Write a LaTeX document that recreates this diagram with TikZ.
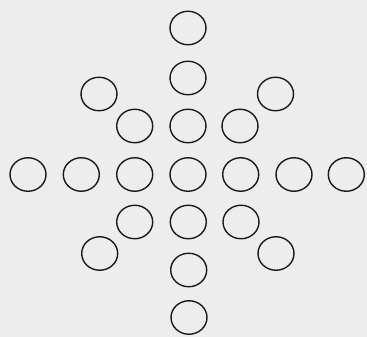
\documentclass[tikz,border=0pt]{standalone}
\usetikzlibrary{shapes.geometric}
\begin{document}
\begin{tikzpicture}[x=1pt,y=-1pt,
  ring/.style={draw=black!90,line width=1.4pt,ellipse,minimum width=36pt,minimum height=33.5pt,inner sep=0pt}]
\fill[black!7] (0,0) rectangle (367,337);
\useasboundingbox (0,0) rectangle (367,337);
% vertical column
\node[ring] (t1) at (188,28) {};
\node[ring] (t2) at (188,78) {};
\node[ring] (t3) at (188,126) {};
\node[ring] (c)  at (188,174.5) {};
\node[ring] (b3) at (188.3,222) {};
\node[ring] (b2) at (188.7,270) {};
\node[ring] (b1) at (189,317.5) {};
% upper diagonals
\node[ring] (ul2) at (99,94) {};
\node[ring] (ul1) at (134.7,126) {};
\node[ring] (ur1) at (240,126) {};
\node[ring] (ur2) at (275.5,94) {};
% centre row
\node[ring] (l3) at (28,174.5) {};
\node[ring] (l2) at (81.3,174.5) {};
\node[ring] (l1) at (134.7,174.5) {};
\node[ring] (r1) at (240.7,174.5) {};
\node[ring] (r2) at (294,174.5) {};
\node[ring] (r3) at (346.3,174.5) {};
% lower diagonals
\node[ring] (dl1) at (134.7,222) {};
\node[ring] (dr1) at (241,222) {};
\node[ring] (dl2) at (99.7,253.5) {};
\node[ring] (dr2) at (276,253.5) {};
\end{tikzpicture}
\end{document}
